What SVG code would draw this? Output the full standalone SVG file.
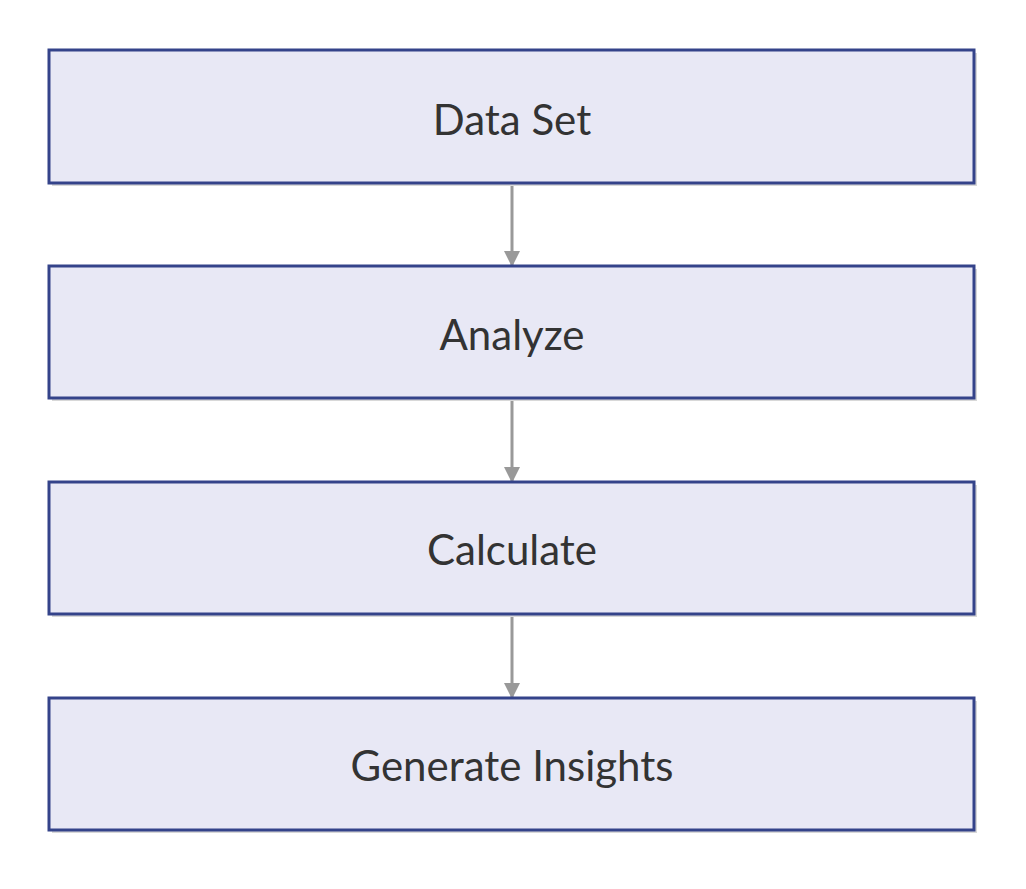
<svg xmlns="http://www.w3.org/2000/svg" width="1026" height="889" viewBox="0 0 1026 889">
<style>
.box{fill:#e8e8f5;stroke:#34438a;stroke-width:3}
.sh{fill:#d8d8d8}
.t{font-family:Lato,"Liberation Sans",sans-serif;font-size:42px;fill:#333;text-anchor:middle;dominant-baseline:central}
.c{stroke:#999;stroke-width:3;fill:none;marker-end:url(#a)}
</style>
<defs><marker id="a" markerWidth="16" markerHeight="16" refX="14" refY="8" orient="auto" markerUnits="userSpaceOnUse" viewBox="0 0 16 16"><path d="M0,0 L16,8 L0,16 z" fill="#999"/></marker></defs>
<rect width="1026" height="889" fill="#fff"/>
<g id="connectors">
<line class="c" x1="512" y1="183" x2="512" y2="265"/>
<line class="c" x1="512" y1="399" x2="512" y2="481"/>
<line class="c" x1="512" y1="615" x2="512" y2="697"/>
</g>
<g id="n1"><rect class="sh" x="52" y="53" width="925" height="133"/><rect class="box" x="49" y="50" width="925" height="133"/><text class="t" x="512" y="119">Data Set</text></g>
<g id="n2"><rect class="sh" x="52" y="269" width="925" height="132"/><rect class="box" x="49" y="266" width="925" height="132"/><text class="t" x="512" y="334">Analyze</text></g>
<g id="n3"><rect class="sh" x="52" y="485" width="925" height="132"/><rect class="box" x="49" y="482" width="925" height="132"/><text class="t" x="512" y="549">Calculate</text></g>
<g id="n4"><rect class="sh" x="52" y="701" width="925" height="132"/><rect class="box" x="49" y="698" width="925" height="132"/><text class="t" x="512" y="765">Generate Insights</text></g>
</svg>
